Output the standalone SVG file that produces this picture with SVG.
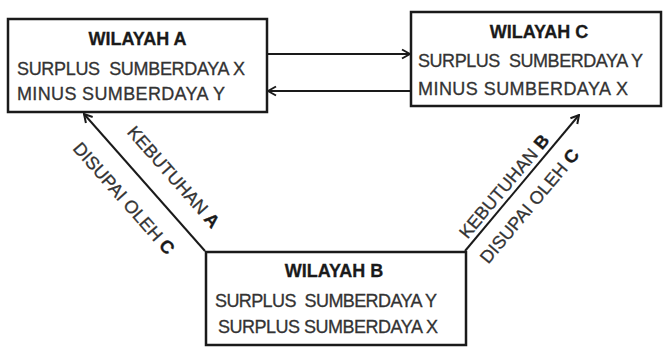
<svg xmlns="http://www.w3.org/2000/svg" width="665" height="347" viewBox="0 0 665 347">
<defs>
<style>
.box{fill:#fff;stroke:#1a1a1a;stroke-width:2.5}
.t{font-family:"Liberation Sans",Arial,sans-serif;font-size:18px;fill:#333;stroke:#333;stroke-width:0.3;white-space:pre}
.b{font-weight:bold;fill:#1a1a1a;stroke:#1a1a1a}
.c{text-anchor:middle}
.ln{stroke:#1a1a1a;stroke-width:2;fill:none}
</style>
<marker id="ah" viewBox="0 0 12 12" refX="11" refY="6" markerWidth="12" markerHeight="12" markerUnits="userSpaceOnUse" orient="auto">
<path d="M3,1.5 L11,6 L3,10.5" fill="none" stroke="#1a1a1a" stroke-width="2"/>
</marker>
</defs>
<rect width="665" height="347" fill="#fff"/>
<g id="connectors">
<line class="ln" x1="267" y1="54" x2="410" y2="54" marker-end="url(#ah)"/>
<line class="ln" x1="411" y1="91" x2="268" y2="91" marker-end="url(#ah)"/>
<line class="ln" x1="205" y1="251" x2="84" y2="114" marker-end="url(#ah)"/>
<line class="ln" x1="465" y1="251" x2="579" y2="115" marker-end="url(#ah)"/>
<text class="t c" xml:space="preserve" transform="translate(169,181) rotate(48.5)">KEBUTUHAN <tspan class="b">A</tspan></text>
<text class="t c" xml:space="preserve" transform="translate(119.3,202.4) rotate(48.5)">DISUPAI OLEH <tspan class="b">C</tspan></text>
<text class="t c" xml:space="preserve" transform="translate(508.9,190.3) rotate(-50)">KEBUTUHAN <tspan class="b">B</tspan></text>
<text class="t c" xml:space="preserve" transform="translate(534.2,210) rotate(-50)">DISUPAI OLEH <tspan class="b">C</tspan></text>
</g>
<g id="wilayah-a">
<rect class="box" x="8" y="19" width="259" height="93"/>
<text class="t b c" x="137.5" y="45">WILAYAH A</text>
<text class="t" xml:space="preserve" x="17" y="75" textLength="228" lengthAdjust="spacing">SURPLUS  SUMBERDAYA X</text>
<text class="t" xml:space="preserve" x="17" y="100" textLength="208" lengthAdjust="spacing">MINUS SUMBERDAYA Y</text>
</g>
<g id="wilayah-c">
<rect class="box" x="411" y="12" width="250" height="94"/>
<text class="t b c" x="539" y="38">WILAYAH C</text>
<text class="t" xml:space="preserve" x="418" y="67" textLength="225" lengthAdjust="spacing">SURPLUS  SUMBERDAYA Y</text>
<text class="t" xml:space="preserve" x="418" y="95" textLength="210" lengthAdjust="spacing">MINUS SUMBERDAYA X</text>
</g>
<g id="wilayah-b">
<rect class="box" x="206" y="252" width="260" height="93"/>
<text class="t b c" x="334" y="277">WILAYAH B</text>
<text class="t" xml:space="preserve" x="215" y="307" textLength="222" lengthAdjust="spacing">SURPLUS  SUMBERDAYA Y</text>
<text class="t" xml:space="preserve" x="218" y="333" textLength="220" lengthAdjust="spacing">SURPLUS SUMBERDAYA X</text>
</g>
</svg>
